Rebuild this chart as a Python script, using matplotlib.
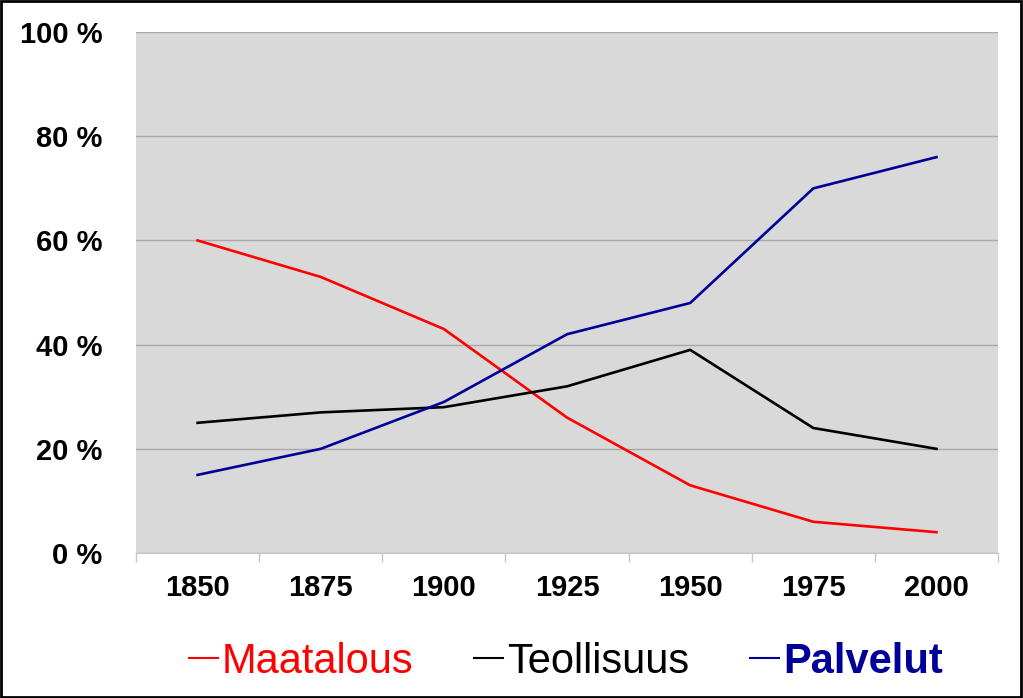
import numpy as np
import matplotlib
matplotlib.use('Agg')
import matplotlib.pyplot as plt
from matplotlib.patches import Rectangle

plt.rcParams['font.family'] = ['Liberation Sans', 'DejaVu Sans']

years = ['1850', '1875', '1900', '1925', '1950', '1975', '2000']
maatalous = [60, 53, 43, 26, 13, 6, 4]
teollisuus = [25, 27, 28, 32, 39, 24, 20]
palvelut = [15, 20, 29, 42, 48, 70, 76]
y_ticks = [0, 20, 40, 60, 80, 100]

fig = plt.figure(figsize=(10.23, 6.98), dpi=100)
ax = fig.add_axes([0.133, 0.2077, 0.8426, 0.7463])
ax.set_facecolor('#d9d9d9')

x = np.arange(len(years))
ax.plot(x, maatalous, color='#ff0000', lw=1.9, label='Maatalous')
ax.plot(x, teollisuus, color='#000000', lw=1.9, label='Teollisuus')
ax.plot(x, palvelut, color='#000099', lw=1.9, label='Palvelut')

ax.set_xlim(-0.5, len(years) - 0.5)
ax.set_ylim(0, 100)
ax.set_yticks(y_ticks)
ax.set_yticklabels(['%d %%' % v for v in y_ticks])
ax.yaxis.grid(True, color='#a8a8a8', lw=1)
ax.set_axisbelow(True)

ax.set_xticks(x)
ax.set_xticklabels(years)
ax.set_xticks(np.arange(len(years) + 1) - 0.5, minor=True)
ax.tick_params(axis='x', which='major', length=0, pad=15)
ax.tick_params(axis='x', which='minor', length=6.5, color='#c8c8c8', width=1)
ax.tick_params(axis='y', length=0, pad=24)
for lab in ax.get_xticklabels() + ax.get_yticklabels():
    lab.set_fontsize(21)
    lab.set_fontweight('bold')

for s in ['top', 'right', 'left']:
    ax.spines[s].set_visible(False)
ax.spines['bottom'].set_color('#c8c8c8')

leg = fig.legend(loc='center', bbox_to_anchor=(0.553, 0.052), ncol=3, frameon=False,
                 fontsize=30, handlelength=0.7, handletextpad=0.1, columnspacing=1.45)
cols = ['#ff0000', '#000000', '#000099']
for t, c in zip(leg.get_texts(), cols):
    t.set_color(c)
leg.get_texts()[2].set_fontweight('bold')
for h in leg.legend_handles:
    h.set_linewidth(1.5)

fig.patches.append(Rectangle((0.001, 0.001), 0.997, 0.997, transform=fig.transFigure,
                             fill=False, edgecolor='black', lw=2))

fig.savefig('out.png', dpi=100)
